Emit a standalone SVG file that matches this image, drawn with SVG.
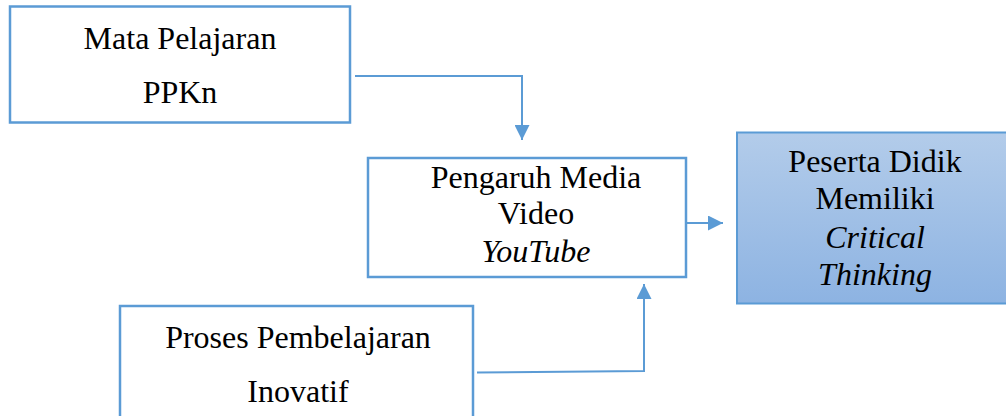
<svg xmlns="http://www.w3.org/2000/svg" width="1006" height="416" viewBox="0 0 1006 416">
<defs>
<linearGradient id="g4" x1="0" y1="0" x2="0" y2="1">
<stop offset="0" stop-color="#B3CCEA"/>
<stop offset="1" stop-color="#8DB3E2"/>
</linearGradient>
<marker id="ah" viewBox="0 0 10 10" refX="10" refY="5" markerWidth="15" markerHeight="15" markerUnits="userSpaceOnUse" orient="auto">
<path d="M0,0 L10,5 L0,10 Z" fill="#5B9BD5"/>
</marker>
<style>
.box{fill:#FFFFFF;stroke:#5B9BD5;stroke-width:2.5}
.t{font-family:"Liberation Serif","Times New Roman",serif;font-size:32px;fill:#000;text-anchor:middle}
.i{font-style:italic}
.c{fill:none;stroke:#5B9BD5;stroke-width:2}
</style>
</defs>
<g id="connectors">
<polyline class="c" points="355,76 522,76 522,140" marker-end="url(#ah)"/>
<line class="c" x1="686" y1="223" x2="723" y2="223" marker-end="url(#ah)"/>
<polyline class="c" points="477,372.5 644,371 644,284" marker-end="url(#ah)"/>
</g>
<g id="node-mata">
<rect class="box" x="10" y="6.5" width="340" height="116"/>
<text class="t" x="180" y="49">Mata Pelajaran</text>
<text class="t" x="180" y="103">PPKn</text>
</g>
<g id="node-pengaruh">
<rect class="box" x="368" y="158" width="318" height="119"/>
<text class="t" x="536" y="188">Pengaruh Media</text>
<text class="t" x="536" y="224">Video</text>
<text class="t i" x="536" y="262">YouTube</text>
</g>
<g id="node-proses">
<rect class="box" x="120" y="306" width="353" height="130"/>
<text class="t" x="298" y="348">Proses Pembelajaran</text>
<text class="t" x="298" y="402">Inovatif</text>
</g>
<g id="node-peserta">
<rect x="737" y="132.5" width="290" height="171" fill="url(#g4)" stroke="#5B9BD5" stroke-width="2"/>
<text class="t" x="875" y="172">Peserta Didik</text>
<text class="t" x="875" y="209">Memiliki</text>
<text class="t i" x="875" y="248">Critical</text>
<text class="t i" x="875" y="285">Thinking</text>
</g>
</svg>
